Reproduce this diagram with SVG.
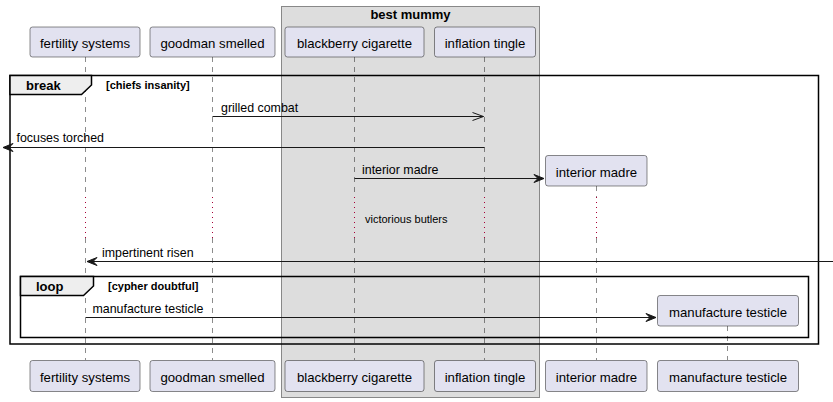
<svg xmlns="http://www.w3.org/2000/svg" width="833" height="402" viewBox="0 0 833 402">
<style>
.p{fill:#E2E2F0;stroke:#181818;stroke-width:0.5}
.pt{font-family:"Liberation Sans",Arial,sans-serif;font-size:13.2px;fill:#000;text-anchor:middle}
.ll{stroke:#181818;stroke-width:0.5;stroke-dasharray:5,5;fill:none}
.dl{stroke:#A80036;stroke-width:1;stroke-dasharray:1,4;fill:none}
.m{stroke:#181818;stroke-width:1;fill:none}
.mt{font-family:"Liberation Sans",Arial,sans-serif;font-size:12.4px;fill:#000}
.fr{fill:none;stroke:#000;stroke-width:1.5}
.tab{fill:#EEEEEE;stroke:#000;stroke-width:1.5}
.ft{font-family:"Liberation Sans",Arial,sans-serif;font-size:13px;font-weight:bold;fill:#000}
.gt{font-family:"Liberation Sans",Arial,sans-serif;font-size:11px;font-weight:bold;fill:#000}
.ah{fill:#181818;stroke:#181818;stroke-width:1}
</style>
<g id="box-best-mummy">
<rect x="281.5" y="6.5" width="258" height="391" fill="#DDDDDD" stroke="#888888" stroke-width="1"/>
<text x="410.5" y="18.5" class="ft" text-anchor="middle">best mummy</text>
</g>
<g id="lifelines">
<line class="ll" x1="85.5" y1="57" x2="85.5" y2="197"/><line class="dl" x1="85.5" y1="197" x2="85.5" y2="238"/><line class="ll" x1="85.5" y1="238" x2="85.5" y2="360"/>
<line class="ll" x1="212.5" y1="57" x2="212.5" y2="197"/><line class="dl" x1="212.5" y1="197" x2="212.5" y2="238"/><line class="ll" x1="212.5" y1="238" x2="212.5" y2="360"/>
<line class="ll" x1="354.5" y1="57" x2="354.5" y2="197"/><line class="dl" x1="354.5" y1="197" x2="354.5" y2="238"/><line class="ll" x1="354.5" y1="238" x2="354.5" y2="360"/>
<line class="ll" x1="484.5" y1="57" x2="484.5" y2="197"/><line class="dl" x1="484.5" y1="197" x2="484.5" y2="238"/><line class="ll" x1="484.5" y1="238" x2="484.5" y2="360"/>
<line class="ll" x1="596.5" y1="186" x2="596.5" y2="197"/><line class="dl" x1="596.5" y1="197" x2="596.5" y2="238"/><line class="ll" x1="596.5" y1="238" x2="596.5" y2="360"/>
<line class="ll" x1="727.5" y1="326" x2="727.5" y2="360"/>
</g>
<g id="frame-break">
<rect class="fr" x="10" y="75.5" width="808.5" height="268.5"/>
<path class="tab" d="M10,75.5 H91.5 V85 L81.5,94.5 H10 Z"/>
<text x="26" y="89.5" class="ft">break</text>
<text x="106" y="88.5" class="gt">[chiefs insanity]</text>
</g>
<g id="frame-loop">
<rect class="fr" x="20.5" y="276.5" width="788" height="61"/>
<path class="tab" d="M20.5,276.5 H93.5 V286 L83.5,295.5 H20.5 Z"/>
<text x="36" y="290.5" class="ft">loop</text>
<text x="108" y="289.5" class="gt">[cypher doubtful]</text>
</g>
<g id="connectors">
<line class="m" x1="212.5" y1="116.5" x2="483.5" y2="116.5"/>
<path class="m" d="M472.5,112.5 L483.5,116.5 L472.5,120.5"/>
<text x="221" y="111.5" class="mt">grilled combat</text>
<line class="m" x1="484.5" y1="147.5" x2="3" y2="147.5"/>
<polygon class="ah" points="13,143.5 3,147.5 13,151.5 9,147.5"/>
<text x="16.5" y="141.5" class="mt">focuses torched</text>
<line class="m" x1="354.5" y1="178.5" x2="544" y2="178.5"/>
<polygon class="ah" points="534,174.5 544,178.5 534,182.5 538,178.5"/>
<text x="362" y="173.5" class="mt">interior madre</text>
<text x="365" y="222.5" font-family="Liberation Sans,Arial,sans-serif" font-size="11px">victorious butlers</text>
<line class="m" x1="833" y1="261.5" x2="87" y2="261.5"/>
<polygon class="ah" points="97,257.5 87,261.5 97,265.5 93,261.5"/>
<text x="102" y="256.5" class="mt">impertinent risen</text>
<line class="m" x1="85.5" y1="317.5" x2="656" y2="317.5"/>
<polygon class="ah" points="646,313.5 656,317.5 646,321.5 650,317.5"/>
<text x="92.5" y="312.5" class="mt">manufacture testicle</text>
</g>
<g id="p-fertility-systems">
<rect class="p" x="30" y="27" width="110" height="30" rx="2.5"/><text class="pt" x="85" y="47.5">fertility systems</text>
<rect class="p" x="30" y="360.5" width="110" height="31" rx="2.5"/><text class="pt" x="85" y="381.5">fertility systems</text>
</g>
<g id="p-goodman-smelled">
<rect class="p" x="150" y="27" width="125" height="30" rx="2.5"/><text class="pt" x="212.5" y="47.5">goodman smelled</text>
<rect class="p" x="150" y="360.5" width="125" height="31" rx="2.5"/><text class="pt" x="212.5" y="381.5">goodman smelled</text>
</g>
<g id="p-blackberry-cigarette">
<rect class="p" x="285" y="27" width="139" height="30" rx="2.5"/><text class="pt" x="354.5" y="47.5">blackberry cigarette</text>
<rect class="p" x="285" y="360.5" width="139" height="31" rx="2.5"/><text class="pt" x="354.5" y="381.5">blackberry cigarette</text>
</g>
<g id="p-inflation-tingle">
<rect class="p" x="434.5" y="27" width="101" height="30" rx="2.5"/><text class="pt" x="485" y="47.5">inflation tingle</text>
<rect class="p" x="434.5" y="360.5" width="101" height="31" rx="2.5"/><text class="pt" x="485" y="381.5">inflation tingle</text>
</g>
<g id="p-interior-madre">
<rect class="p" x="545.5" y="155.5" width="101.5" height="30.5" rx="2.5"/><text class="pt" x="596.5" y="176.5">interior madre</text>
<rect class="p" x="545.5" y="360.5" width="101.5" height="31" rx="2.5"/><text class="pt" x="596.5" y="381.5">interior madre</text>
</g>
<g id="p-manufacture-testicle">
<rect class="p" x="657.5" y="295.5" width="141" height="30.5" rx="2.5"/><text class="pt" x="728" y="316.5">manufacture testicle</text>
<rect class="p" x="657.5" y="360.5" width="141" height="31" rx="2.5"/><text class="pt" x="728" y="381.5">manufacture testicle</text>
</g>
</svg>
